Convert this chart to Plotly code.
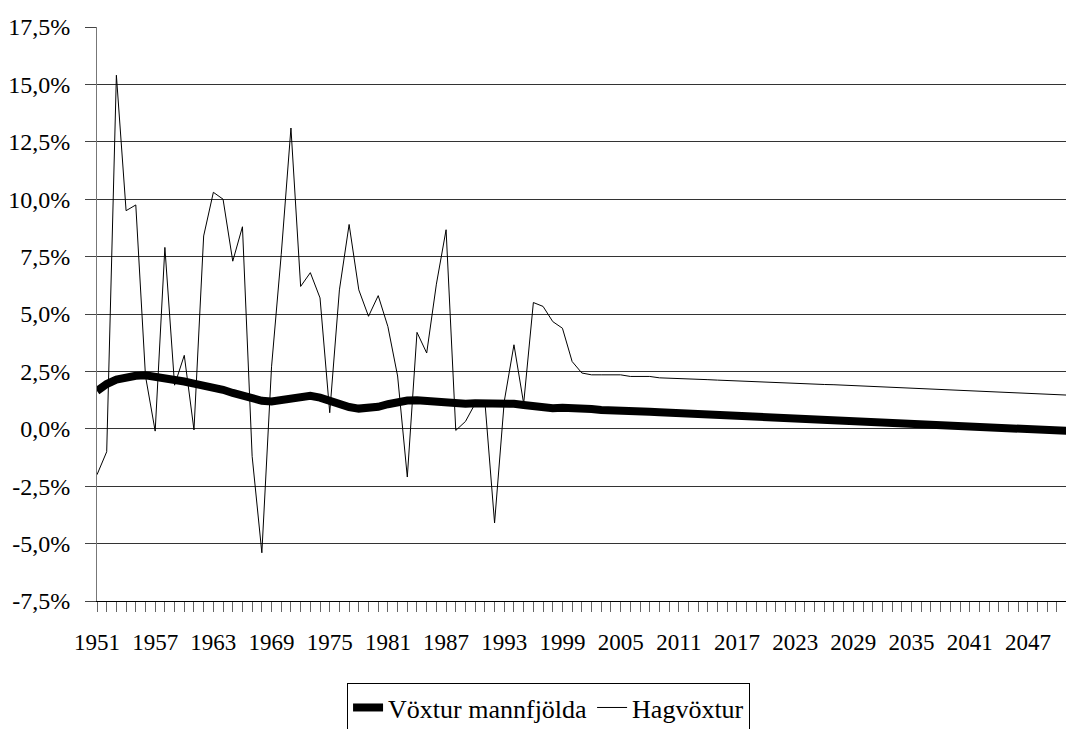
import plotly.graph_objects as go

years = list(range(1951, 2053))

hagvoxtur = [
    -2.0, -1.0, 15.4, 9.5, 9.75, 2.3, -0.1, 7.9, 1.9, 3.2,          # 1951-1960
    -0.05, 8.4, 10.3, 10.0, 7.3, 8.8, -1.2, -5.4, 2.7, 7.6,         # 1961-1970
    13.1, 6.2, 6.8, 5.7, 0.7, 6.05, 8.9, 6.05, 4.9, 5.8,            # 1971-1980
    4.45, 2.3, -2.1, 4.2, 3.3, 6.3, 8.67, -0.07, 0.32, 1.1,         # 1981-1990
    1.2, -4.1, 1.2, 3.66, 1.1, 5.5, 5.33, 4.67, 4.38, 2.93,         # 1991-2000
    2.43, 2.35, 2.35, 2.35, 2.35, 2.28, 2.28, 2.28, 2.22, 2.21,     # 2001-2010
    2.2, 2.18, 2.16, 2.14, 2.12, 2.1, 2.08, 2.06, 2.04, 2.03,       # 2011-2020
    2.02, 2.0, 1.99, 1.97, 1.95, 1.93, 1.92, 1.9, 1.88, 1.86,       # 2021-2030
    1.84, 1.82, 1.8, 1.78, 1.76, 1.74, 1.72, 1.7, 1.68, 1.66,       # 2031-2040
    1.64, 1.62, 1.6, 1.59, 1.57, 1.55, 1.53, 1.51, 1.49, 1.47,      # 2041-2050
    1.46, 1.45,                                                     # 2051-2052
]

mannfjoldi = [
    1.65, 1.95, 2.14, 2.25, 2.31, 2.33, 2.28, 2.2, 2.14, 2.06,      # 1951-1960
    1.97, 1.89, 1.8, 1.7, 1.56, 1.42, 1.3, 1.22, 1.19, 1.25,        # 1961-1970
    1.35, 1.43, 1.44, 1.36, 1.22, 1.06, 0.95, 0.88, 0.9, 0.96,      # 1971-1980
    1.07, 1.17, 1.23, 1.24, 1.2, 1.13, 1.09, 1.08, 1.09, 1.11,      # 1981-1990
    1.12, 1.12, 1.12, 1.09, 1.04, 0.98, 0.93, 0.9, 0.92, 0.92,      # 1991-2000
    0.88, 0.86, 0.82, 0.82, 0.8, 0.78, 0.76, 0.74, 0.72, 0.7,       # 2001-2010
    0.68, 0.65, 0.62, 0.6, 0.58, 0.55, 0.53, 0.52, 0.5, 0.48,       # 2011-2020
    0.46, 0.44, 0.43, 0.42, 0.4, 0.38, 0.36, 0.33, 0.3, 0.28,       # 2021-2030
    0.26, 0.23, 0.21, 0.19, 0.17, 0.16, 0.15, 0.13, 0.11, 0.09,     # 2031-2040
    0.07, 0.05, 0.02, 0.0, -0.03, -0.05, -0.06, -0.07, -0.08, -0.09,# 2041-2050
    -0.1, -0.11,                                                    # 2051-2052
]

tick_years = list(range(1951, 2051))
tick_labels = [str(y) if (y - 1951) % 6 == 0 else "" for y in tick_years]

y_ticks = [-7.5, -5.0, -2.5, 0.0, 2.5, 5.0, 7.5, 10.0, 12.5, 15.0, 17.5]
y_labels = ["-7,5%", "-5,0%", "-2,5%", "0,0%", "2,5%", "5,0%", "7,5%",
            "10,0%", "12,5%", "15,0%", "17,5%"]

FONT = "Liberation Serif"

fig = go.Figure()
fig.add_trace(go.Scatter(
    x=years, y=hagvoxtur, mode="lines", name="Hagvöxtur",
    line=dict(color="black", width=1),
))
fig.add_trace(go.Scatter(
    x=years, y=mannfjoldi, mode="lines", name="Vöxtur mannfjölda",
    line=dict(color="black", width=8),
))

fig.update_layout(
    width=1066, height=729,
    margin=dict(l=97, r=0, t=27, b=128, autoexpand=False),
    paper_bgcolor="white", plot_bgcolor="white",
    font=dict(family=FONT, size=24, color="black"),
    showlegend=True,
    legend=dict(
        orientation="h", traceorder="reversed",
        x=0.466, xanchor="center", xref="paper",
        y=-0.143, yanchor="top",
        bordercolor="black", borderwidth=1,
        font=dict(family=FONT, size=26, color="black"),
        itemwidth=30,
    ),
    xaxis=dict(
        range=[1951, 2050.93],
        tickmode="array", tickvals=tick_years, ticktext=tick_labels,
        ticks="outside", ticklen=10, tickcolor="#666", tickwidth=1,
        showgrid=False, zeroline=False,
        showline=True, linecolor="black", linewidth=1,
        tickfont=dict(family=FONT, size=23, color="black"),
        tickangle=0,
        ticklabelstandoff=10,
    ),
    yaxis=dict(
        range=[-7.5, 17.5],
        tickmode="array", tickvals=y_ticks, ticktext=y_labels,
        ticks="outside", ticklen=11, tickcolor="#444", tickwidth=1,
        showgrid=True, gridcolor="#333", gridwidth=1,
        zeroline=False,
        showline=True, linecolor="#777", linewidth=1,
        tickfont=dict(family=FONT, size=24, color="black"),
        ticklabelstandoff=10,
    ),
)

fig.write_html("out.html")
